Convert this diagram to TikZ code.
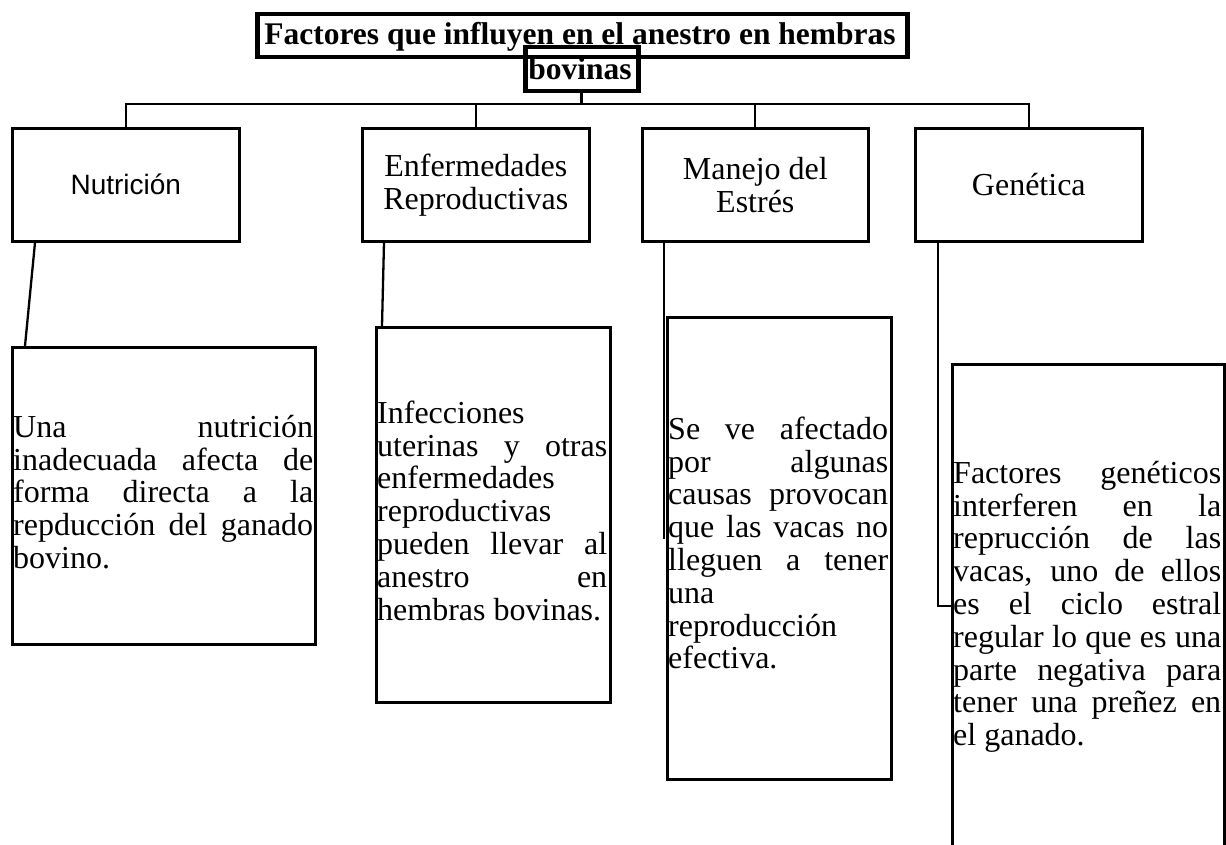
\documentclass[tikz,border=0pt]{standalone}
\usepackage{fontspec}
\setmainfont{Liberation Serif}
\newfontfamily\arialf{Liberation Sans}
\newcommand{\ns}{\spaceskip=0pt\xspaceskip=0pt\relax}
\newcommand{\jl}[2]{\makebox[#1][s]{\ns #2}}
\newcommand{\fl}{\rule{0pt}{26pt}}
\tikzset{
  bx/.style={draw, line width=2.6pt, inner sep=0pt, anchor=north west},
  ttl/.style={draw, line width=4.5pt, inner sep=0pt, anchor=north west},
  conn/.style={line width=2.3pt},
  body/.style={inner sep=0pt, anchor=north west, align=left, font=\fontsize{32}{32.8}\selectfont},
  hd/.style={align=center, font=\fontsize{32}{33}\selectfont, inner sep=0pt},
  tt/.style={anchor=base, inner sep=0pt, font=\bfseries\fontsize{31.5}{33}\selectfont}
}
\begin{document}
\begin{tikzpicture}[x=1pt,y=-1pt]
\useasboundingbox (0,0) rectangle (1226,845);
% title
\node[tt] (t1) at (580,45) {Factores que influyen en el anestro en hembras};
\node[tt] (t2) at (580,80) {bovinas};
\node[ttl, minimum width=650pt, minimum height=43pt] (tbox) at (255,12) {};
\node[ttl, minimum width=113pt, minimum height=44pt] (bov) at (523,45) {};
% header boxes
\node[bx, minimum width=227pt, minimum height=113pt] (nut) at (11,127) {};
\node[bx, minimum width=227pt, minimum height=113pt] (enf) at (361,127) {};
\node[bx, minimum width=226pt, minimum height=113pt] (man) at (641,127) {};
\node[bx, minimum width=227pt, minimum height=113pt] (gen) at (914,127) {};
\node[inner sep=0pt, font=\arialf\fontsize{28}{30}\selectfont] (nutT) at (nut.center) {Nutrición};
\node[hd] (enfT) at (enf.center) {\ns Enfermedades\\Reproductivas};
\node[hd] (manT) at (man.center) {\ns Manejo del\\Estrés};
\node[hd] (genT) at (gen.center) {Genética};
% bus
\coordinate (bus) at (0,104);
\draw[line width=3pt] (bov.south) -- (bov.south |- bus);
\draw[conn] (nut.north) -- (nut.north |- bus) -- (gen.north |- bus) -- (gen.north);
\draw[conn] (enf.north) -- (enf.north |- bus);
\draw[conn] (man.north) -- (man.north |- bus);
% lower boxes
\node[bx, minimum width=303pt, minimum height=297pt] (nutL) at (11,346) {};
\node[bx, minimum width=234pt, minimum height=375pt] (enfL) at (375,326) {};
\node[bx, minimum width=224pt, minimum height=462pt] (manL) at (666,316) {};
\node[bx, minimum width=272pt, minimum height=540pt] (genL) at (951,363) {};
% lower connectors
\coordinate (manEnd) at (664,539);
\coordinate (genHook) at (951,606);
\draw[conn] ([xshift=24pt]nut.south west) -- ([xshift=14pt]nutL.north west);
\draw[conn] ([xshift=23pt]enf.south west) -- ([xshift=7pt]enfL.north west);
\draw[conn] ([xshift=23pt]man.south west) -- (manEnd);
\draw[conn] ([xshift=24pt]gen.south west) |- (genHook);
% body texts
\node[body, text width=300pt] (nutX) at (13,411) {\noindent\ns\fl\jl{300pt}{Una nutrición}\\
\jl{300pt}{inadecuada afecta de}\\
\jl{300pt}{forma directa a la}\\
\jl{300pt}{repducción del ganado}\\
bovino.};
\node[body, text width=230pt] (enfX) at (377,397) {\noindent\ns\fl Infecciones\\
\jl{230pt}{uterinas y otras}\\
enfermedades\\
reproductivas\\
\jl{230pt}{pueden llevar al}\\
\jl{230pt}{anestro en}\\
hembras bovinas.};
\node[body, text width=220pt] (manX) at (668,413) {\noindent\ns\fl\jl{220pt}{Se ve afectado}\\
\jl{220pt}{por algunas}\\
\jl{220pt}{causas provocan}\\
\jl{220pt}{que las vacas no}\\
\jl{220pt}{lleguen a tener}\\
una\\
reproducción\\
efectiva.};
\node[body, text width=268pt] (genX) at (953,457) {\noindent\ns\fl\jl{268pt}{Factores genéticos}\\
\jl{268pt}{interferen en la}\\
\jl{268pt}{reprucción de las}\\
\jl{268pt}{vacas, uno de ellos}\\
\jl{268pt}{es el ciclo estral}\\
\jl{268pt}{regular lo que es una}\\
\jl{268pt}{parte negativa para}\\
\jl{268pt}{tener una preñez en}\\
el ganado.};
\end{tikzpicture}
\end{document}
